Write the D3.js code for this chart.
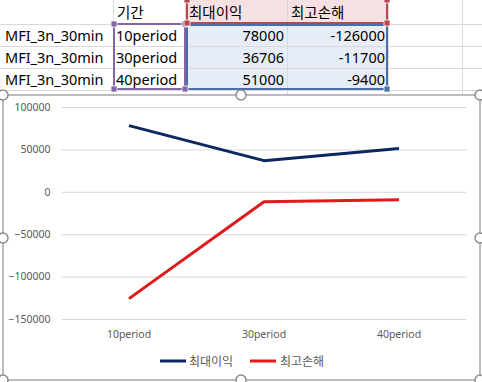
<!DOCTYPE html>
<html><head><meta charset="utf-8">
<script src="https://cdn.jsdelivr.net/npm/d3@7"></script>
<style>
html,body{margin:0;padding:0;background:#fff;}
svg{display:block;}
</style></head>
<body>
<svg id="c" width="482" height="382"></svg>
<script>
const periods = ["10period", "30period", "40period"];
const rowNames = ["MFI_3n_30min", "MFI_3n_30min", "MFI_3n_30min"];
const periodHeader = "기간";
const seriesNames = ["최대이익", "최고손해"];
const maxProfit = [78000, 36706, 51000];
const maxLoss = [-126000, -11700, -9400];
const yTicks = [100000, 50000, 0, -50000, -100000, -150000];

const svg = d3.select("#c");
const kr = "'Noto Sans CJK KR','Noto Sans',sans-serif";

// ---------- spreadsheet ----------
const colX = [0, 113, 185, 287, 388, 462, 482];
const rowY = [0, 24, 46, 68, 90];
const grid = "#d9d9d9";

svg.append("rect").attr("x", 186).attr("y", 0).attr("width", 202).attr("height", 24).attr("fill", "#f6e1e2");
svg.append("rect").attr("x", 186).attr("y", 24).attr("width", 202).attr("height", 66).attr("fill", "#e7edf7");
svg.append("rect").attr("x", 113).attr("y", 24).attr("width", 72).attr("height", 66).attr("fill", "#ffffff");

colX.slice(1, 6).forEach(x => svg.append("line").attr("x1", x + 0.5).attr("x2", x + 0.5).attr("y1", 0).attr("y2", 95).attr("stroke", grid));
rowY.slice(1).forEach(y => svg.append("line").attr("x1", 0).attr("x2", 482).attr("y1", y + 0.5).attr("y2", y + 0.5).attr("stroke", grid));

const cellFont = 14.5;
svg.append("text").attr("x", 117).attr("y", 18).attr("font-family", kr).attr("font-size", cellFont).attr("fill", "#000").text(periodHeader);
seriesNames.forEach((s, i) => svg.append("text").attr("x", colX[2 + i] + 4).attr("y", 18).attr("font-family", kr).attr("font-size", cellFont).attr("fill", "#000").text(s));
rowNames.forEach((r, i) => {
  const y = rowY[i + 1] + 17;
  svg.append("text").attr("x", 5).attr("y", y).attr("font-family", "'Noto Sans',sans-serif").attr("font-size", cellFont).attr("fill", "#000").text(r);
  svg.append("text").attr("x", 116).attr("y", y).attr("font-family", "'Noto Sans',sans-serif").attr("font-size", cellFont).attr("fill", "#000").text(periods[i]);
  svg.append("text").attr("x", 284).attr("y", y).attr("text-anchor", "end").attr("font-family", "'Noto Sans',sans-serif").attr("font-size", cellFont).attr("fill", "#000").text(maxProfit[i]);
  svg.append("text").attr("x", 385).attr("y", y).attr("text-anchor", "end").attr("font-family", "'Noto Sans',sans-serif").attr("font-size", cellFont).attr("fill", "#000").text(maxLoss[i]);
});

const purple = "#8366a6", red = "#b9474f", blue = "#4a6fa8";
svg.append("rect").attr("x", 187).attr("y", -2).attr("width", 200).attr("height", 25).attr("fill", "none").attr("stroke", red).attr("stroke-width", 2);
svg.append("rect").attr("x", 187).attr("y", 25).attr("width", 200).attr("height", 64).attr("fill", "none").attr("stroke", blue).attr("stroke-width", 2);
svg.append("rect").attr("x", 114).attr("y", 24).attr("width", 71).attr("height", 65).attr("fill", "none").attr("stroke", purple).attr("stroke-width", 2);
function sq(x, y, c) { svg.append("rect").attr("x", x - 3).attr("y", y - 3).attr("width", 6).attr("height", 6).attr("fill", c).attr("stroke", "#fff").attr("stroke-width", 0.8); }
sq(114, 24, purple); sq(185, 24, purple); sq(114, 89, purple); sq(185, 89, purple);
sq(187, 0, red); sq(387, 0, red); sq(187, 23, red); sq(387, 23, red);
sq(387, 89, blue);

// ---------- chart ----------
const cx0 = 3, cy0 = 95, cx1 = 480, cy1 = 380;
svg.append("rect").attr("x", cx0).attr("y", cy0).attr("width", cx1 - cx0).attr("height", cy1 - cy0)
  .attr("fill", "#fff").attr("stroke", "#a6a6a6").attr("stroke-width", 1.5);

const x = d3.scaleBand().domain(periods).range([61.5, 466.5]);
const y = d3.scaleLinear().domain([-150000, 100000]).range([319, 107]);

const g = svg.append("g");
const yAxis = d3.axisLeft(y).tickValues(yTicks).tickSize(-(466.5 - 61.5)).tickFormat(d3.format("d"));
const ya = g.append("g").attr("transform", "translate(61.5,0)").call(yAxis);
ya.select(".domain").remove();
ya.selectAll(".tick line").attr("stroke", "#d9d9d9").attr("stroke-width", 1);
ya.selectAll(".tick text").attr("x", -11).attr("fill", "#595959").attr("font-family", "'Noto Sans',sans-serif").attr("font-size", 10.5);

const xa = g.append("g").attr("transform", "translate(0,319)").call(d3.axisBottom(x).tickSize(0));
xa.select(".domain").remove();
xa.selectAll(".tick text").attr("dy", 0).attr("y", 19).attr("fill", "#595959").attr("font-family", "'Noto Sans',sans-serif").attr("font-size", 10.5);

const cxp = d => x(d) + x.bandwidth() / 2;
const colors = ["#0c2660", "#e01a1a"];
[maxProfit, maxLoss].forEach((vals, k) => {
  g.append("path").datum(vals)
    .attr("d", d3.line().x((d, i) => cxp(periods[i])).y(d => y(d)))
    .attr("fill", "none").attr("stroke", colors[k]).attr("stroke-width", 3).attr("stroke-linejoin", "round");
});

const lg = [{x: 160, tx: 189}, {x: 250, tx: 280}];
seriesNames.forEach((s, k) => {
  svg.append("line").attr("x1", lg[k].x).attr("x2", lg[k].x + 26).attr("y1", 361).attr("y2", 361).attr("stroke", colors[k]).attr("stroke-width", 3);
  svg.append("text").attr("x", lg[k].tx).attr("y", 365.5).attr("font-family", kr).attr("font-size", 12).attr("fill", "#595959").text(s);
});

[[cx0, cy0], [241, cy0], [cx1, cy0], [cx0, 238], [cx1, 238], [cx0, cy1], [241, cy1], [cx1, cy1]].forEach(([hx, hy]) => {
  svg.append("circle").attr("cx", hx).attr("cy", hy).attr("r", 5).attr("fill", "#fff").attr("stroke", "#8c8c8c").attr("stroke-width", 1.5);
});
</script>
</body></html>
